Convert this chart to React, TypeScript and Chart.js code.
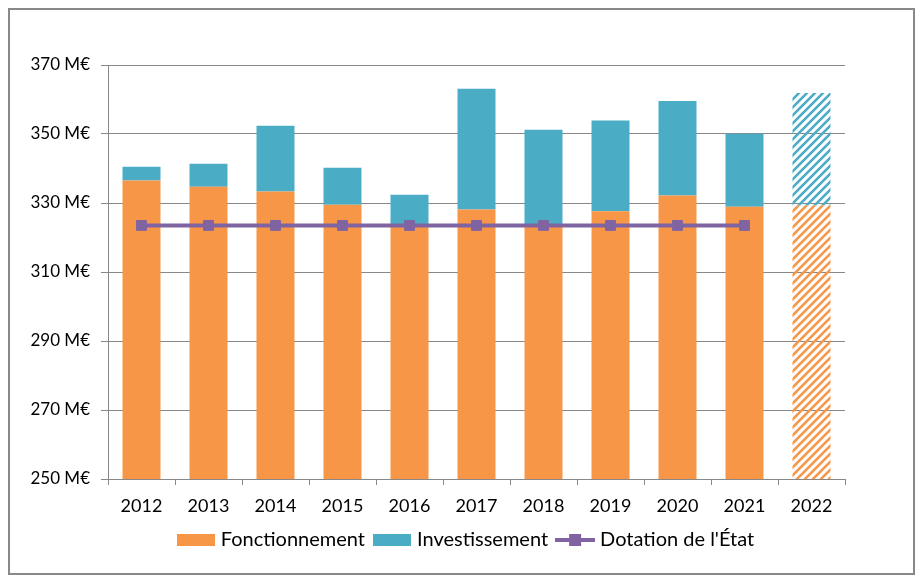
import React, { useEffect, useRef } from 'react';
import { Chart, registerables } from 'chart.js';

Chart.register(...registerables);

const years = ['2012', '2013', '2014', '2015', '2016', '2017', '2018', '2019', '2020', '2021', '2022'];
const fonctionnement = [336.5, 334.7, 333.3, 329.5, 323.8, 328.1, 323.6, 327.6, 332.2, 328.9, 329.3];
const investissement = [4.0, 6.7, 19.1, 10.7, 8.6, 35.0, 27.6, 26.3, 27.4, 21.2, 32.6];
const dotation = [323.5, 323.5, 323.5, 323.5, 323.5, 323.5, 323.5, 323.5, 323.5, 323.5, null];
const legendLabels = ['Fonctionnement', 'Investissement', "Dotation de l'État"];
const projectedIndex = 10;

const ORANGE = '#F79646';
const BLUE = '#4BACC6';
const PURPLE = '#8064A2';
const GRID = '#888888';
const TEXT = '#000000';
const LEGEND_CENTER_X = 457.5;

function makePattern(ctx: CanvasRenderingContext2D, color: string): CanvasPattern | string {
  const size = 8;
  const c = document.createElement('canvas');
  c.width = size;
  c.height = size;
  const g = c.getContext('2d')!;
  g.strokeStyle = color;
  g.lineWidth = 2.6;
  g.beginPath();
  g.moveTo(-2, size + 2);
  g.lineTo(size + 2, -2);
  g.moveTo(-2, 2);
  g.lineTo(2, -2);
  g.moveTo(size - 2, size + 2);
  g.lineTo(size + 2, size - 2);
  g.stroke();
  return ctx.createPattern(c, 'repeat') || color;
}

function makeBoxIcon(color: string): HTMLCanvasElement {
  const c = document.createElement('canvas');
  c.width = 38;
  c.height = 12;
  const g = c.getContext('2d')!;
  g.fillStyle = color;
  g.fillRect(0, 0, 38, 12);
  return c;
}

function makeLineIcon(color: string): HTMLCanvasElement {
  const c = document.createElement('canvas');
  c.width = 40;
  c.height = 12;
  const g = c.getContext('2d')!;
  g.fillStyle = color;
  g.fillRect(0, 4, 40, 4);
  g.fillRect(14, 0, 12, 12);
  return c;
}

const legendShift = {
  id: 'legendShift',
  afterLayout(chart: any) {
    const lg = chart.legend;
    if (!lg) return;
    const shift = LEGEND_CENTER_X - (lg.left + lg.right) / 2;
    lg.left += shift;
    lg.right += shift;
  },
};

export default function App() {
  const ref = useRef<HTMLCanvasElement>(null);

  useEffect(() => {
    const canvas = ref.current!;
    const ctx = canvas.getContext('2d')!;
    const orangePattern = makePattern(ctx, ORANGE);
    const bluePattern = makePattern(ctx, BLUE);
    const icons = [makeBoxIcon(ORANGE), makeBoxIcon(BLUE), makeLineIcon(PURPLE)];

    const chart = new Chart(canvas, {
      type: 'bar',
      data: {
        labels: years,
        datasets: [
          {
            type: 'line',
            label: "Dotation de l'État",
            data: dotation,
            borderColor: PURPLE,
            backgroundColor: PURPLE,
            borderWidth: 4,
            pointStyle: 'rect',
            pointRadius: 7,
            pointBorderWidth: 1,
            pointBackgroundColor: PURPLE,
            pointBorderColor: PURPLE,
            stack: 'dotation',
            order: 0,
          } as any,
          {
            label: 'Fonctionnement',
            data: fonctionnement,
            backgroundColor: (c: any) => (c.dataIndex === projectedIndex ? orangePattern : ORANGE),
            stack: 'bars',
            order: 1,
          },
          {
            label: 'Investissement',
            data: investissement,
            backgroundColor: (c: any) => (c.dataIndex === projectedIndex ? bluePattern : BLUE),
            stack: 'bars',
            order: 1,
          },
        ],
      },
      plugins: [legendShift],
      options: {
        responsive: false,
        animation: false,
        devicePixelRatio: 1,
        layout: { padding: { top: 55, right: 68, left: 0, bottom: 13 } },
        datasets: { bar: { categoryPercentage: 1, barPercentage: 0.567 } },
        scales: {
          x: {
            stacked: true,
            grid: { drawOnChartArea: false, drawTicks: true, tickLength: 6, color: GRID, offset: true },
            border: { color: GRID, width: 1 },
            ticks: {
              color: TEXT,
              padding: 10,
              font: { family: "'Lato', sans-serif", size: 18 },
            },
            afterFit: (s: any) => {
              s.height = 39;
            },
          },
          y: {
            stacked: true,
            min: 250,
            max: 370,
            ticks: {
              stepSize: 20,
              color: TEXT,
              padding: 11,
              font: { family: "'Lato', sans-serif", size: 17 },
              callback: (v: any) => `${v} M€`,
            },
            grid: { color: GRID, lineWidth: 1, tickLength: 7 },
            border: { color: GRID, width: 1 },
            afterFit: (s: any) => {
              s.width = 98;
            },
          },
        },
        plugins: {
          tooltip: { enabled: false },
          legend: {
            position: 'bottom',
            labels: {
              usePointStyle: true,
              pointStyleWidth: 30,
              boxHeight: 12,
              padding: 12,
              color: TEXT,
              font: { family: "'Lato', sans-serif", size: 20 },
              generateLabels: () =>
                legendLabels.map((text, i) => ({
                  text,
                  pointStyle: icons[i] as any,
                  fillStyle: 'transparent',
                  strokeStyle: 'transparent',
                  lineWidth: 0,
                  hidden: false,
                  datasetIndex: i,
                  fontColor: TEXT,
                })),
            },
          },
        },
      },
    } as any);

    return () => chart.destroy();
  }, []);

  return (
    <div style={{ border: '2px solid #888888', width: 903, height: 563, boxSizing: 'content-box' }}>
      <canvas ref={ref} width={903} height={563} style={{ display: 'block' }} />
    </div>
  );
}
